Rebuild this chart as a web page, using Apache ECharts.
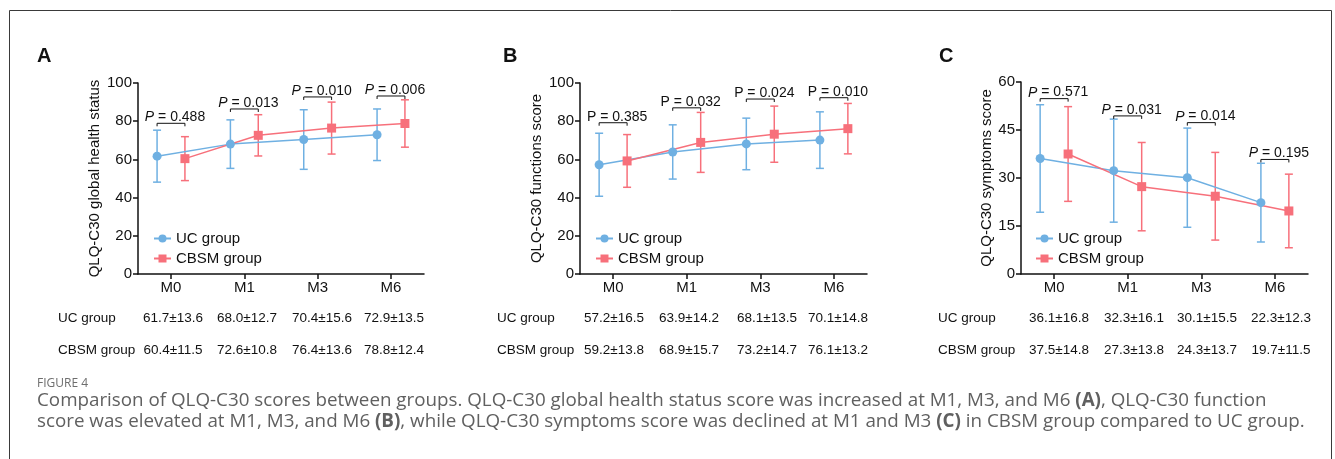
<!DOCTYPE html>
<html>
<head>
<meta charset="utf-8">
<script src="https://cdn.jsdelivr.net/npm/echarts@6/dist/echarts.min.js"></script>
<style>
html,body{margin:0;padding:0;background:#fff;}
#chart{width:1335px;height:459px;}
</style>
</head>
<body>
<div id="chart"></div>
<script>
// ---------- DATA ----------
const categories = ['M0', 'M1', 'M3', 'M6'];
const groupNames = ['UC group', 'CBSM group'];

// Panel A: global health status
const ucMeanA = [61.7, 68.0, 70.4, 72.9];
const ucSdA   = [13.6, 12.7, 15.6, 13.5];
const cbMeanA = [60.4, 72.6, 76.4, 78.8];
const cbSdA   = [11.5, 10.8, 13.6, 12.4];
const pA      = ['0.488', '0.013', '0.010', '0.006'];

// Panel B: functions score
const ucMeanB = [57.2, 63.9, 68.1, 70.1];
const ucSdB   = [16.5, 14.2, 13.5, 14.8];
const cbMeanB = [59.2, 68.9, 73.2, 76.1];
const cbSdB   = [13.8, 15.7, 14.7, 13.2];
const pB      = ['0.385', '0.032', '0.024', '0.010'];

// Panel C: symptoms score
const ucMeanC = [36.1, 32.3, 30.1, 22.3];
const ucSdC   = [16.8, 16.1, 15.5, 12.3];
const cbMeanC = [37.5, 27.3, 24.3, 19.7];
const cbSdC   = [14.8, 13.8, 13.7, 11.5];
const pC      = ['0.571', '0.031', '0.014', '0.195'];

// Y axis ticks
const yTicksAB = [0, 20, 40, 60, 80, 100];
const yTicksC  = [0, 15, 30, 45, 60];

// Bracket levels (value units)
const bracketA = [78.9, 86.4, 92.7, 93.2];
const bracketB = [79.2, 87.0, 91.6, 92.3];
const bracketC = [54.8, 49.4, 47.3, 35.8];

// ---------- STYLE / LAYOUT ----------
const BLUE = '#6fb0e2';
const RED = '#f7707b';
const FONT = "'Liberation Sans', Arial, Helvetica, sans-serif";
const OFF = 0.19;

const panels = [
  { letter: 'A', name: 'QLQ-C30 global health status', grid: {left: 138, top: 83, width: 286, height: 191},
    uc: [ucMeanA, ucSdA], cb: [cbMeanA, cbSdA], p: pA, br: bracketA, ticks: yTicksAB, italic: true,
    nameGap: 36, letterX: 37, legendLeft: 148, labelX: 58, cols: [173, 247, 322, 394] },
  { letter: 'B', name: 'QLQ-C30 functions score', grid: {left: 580, top: 83, width: 287, height: 191},
    uc: [ucMeanB, ucSdB], cb: [cbMeanB, cbSdB], p: pB, br: bracketB, ticks: yTicksAB, italic: false,
    nameGap: 36, letterX: 503, legendLeft: 590, labelX: 497, cols: [614, 689, 767, 838] },
  { letter: 'C', name: 'QLQ-C30 symptoms score', grid: {left: 1021, top: 82, width: 287, height: 192},
    uc: [ucMeanC, ucSdC], cb: [cbMeanC, cbSdC], p: pC, br: bracketC, ticks: yTicksC, italic: true,
    nameGap: 27, letterX: 939, legendLeft: 1030, labelX: 938, cols: [1059, 1134, 1207, 1281] }
];

function fmt(m, s) { return m.toFixed(1) + '\u00b1' + s.toFixed(1); }

const grids = [], xAxes = [], yAxes = [], series = [], legends = [], graphics = [];

panels.forEach((pn, gi) => {
  grids.push(pn.grid);
  xAxes.push({
    type: 'value', gridIndex: gi, min: -0.45, max: 3.45,
    splitLine: {show: false},
    axisLine: {show: true, onZero: false, lineStyle: {color: '#111', width: 1.5}},
    axisTick: {show: true, length: 5, lineStyle: {color: '#111', width: 1.5}, customValues: [0, 1, 2, 3]},
    axisLabel: {show: true, customValues: [0, 1, 2, 3], formatter: v => categories[Math.round(v)],
      fontSize: 15, color: '#111', fontFamily: FONT, margin: 6}
  });
  const tk = pn.ticks;
  yAxes.push({
    type: 'value', gridIndex: gi, min: tk[0], max: tk[tk.length - 1], interval: tk[1] - tk[0],
    name: pn.name, nameLocation: 'middle', nameGap: pn.nameGap, nameRotate: 90,
    nameTextStyle: {fontSize: 15, color: '#111', fontFamily: FONT},
    splitLine: {show: false},
    axisLine: {show: true, onZero: false, lineStyle: {color: '#111', width: 1.5}},
    axisTick: {show: true, length: 5, lineStyle: {color: '#111', width: 1.5}},
    axisLabel: {fontSize: 15, color: '#111', fontFamily: FONT, margin: 6}
  });

  const groups = [
    {name: groupNames[0], mean: pn.uc[0], sd: pn.uc[1], color: BLUE, sym: 'circle', size: 9, dx: -OFF},
    {name: groupNames[1], mean: pn.cb[0], sd: pn.cb[1], color: RED, sym: 'rect', size: 9, dx: OFF}
  ];
  groups.forEach(g => {
    series.push({
      type: 'custom', name: g.name + ' err', xAxisIndex: gi, yAxisIndex: gi, z: 1, clip: false,
      data: g.mean.map((m, i) => [i + g.dx, m - g.sd[i], m + g.sd[i]]),
      encode: {x: 0, y: [1, 2]},
      renderItem: (params, api) => {
        const x = api.value(0);
        const top = api.coord([x, api.value(2)]);
        const bot = api.coord([x, api.value(1)]);
        const w = 4;
        const st = {stroke: g.color, lineWidth: 1.5};
        return {type: 'group', children: [
          {type: 'line', shape: {x1: top[0], y1: top[1], x2: bot[0], y2: bot[1]}, style: st},
          {type: 'line', shape: {x1: top[0] - w, y1: top[1], x2: top[0] + w, y2: top[1]}, style: st},
          {type: 'line', shape: {x1: bot[0] - w, y1: bot[1], x2: bot[0] + w, y2: bot[1]}, style: st}
        ]};
      }
    });
    series.push({
      type: 'line', name: g.name, xAxisIndex: gi, yAxisIndex: gi, z: 3,
      data: g.mean.map((m, i) => [i + g.dx, m]),
      symbol: g.sym, symbolSize: g.size, showSymbol: true,
      lineStyle: {color: g.color, width: 1.5},
      itemStyle: {color: g.color},
      emphasis: {disabled: true}, animation: false
    });
  });

  series.push({
    type: 'custom', name: 'p' + gi, xAxisIndex: gi, yAxisIndex: gi, z: 4, clip: false,
    data: pn.br.map((b, i) => [i, b]),
    encode: {x: 0, y: 1},
    renderItem: (params, api) => {
      const i = api.value(0), lv = api.value(1);
      const a = api.coord([i - OFF, lv]);
      const b = api.coord([i + OFF, lv]);
      const ptxt = pn.italic ? '{i|P} = ' + pn.p[params.dataIndex] : 'P = ' + pn.p[params.dataIndex];
      return {type: 'group', children: [
        {type: 'polyline', shape: {points: [[a[0], a[1] + 3], [a[0], a[1]], [b[0], b[1]], [b[0], b[1] + 3]]}, style: {stroke: '#111', lineWidth: 1, fill: null}},
        {type: 'text', x: (a[0] + b[0]) / 2 + 4, y: a[1] + 1,
          style: {text: ptxt, fontSize: 14, fontFamily: FONT, fill: '#111', align: 'center', verticalAlign: 'bottom',
            rich: {i: {fontStyle: 'italic', fontSize: 14, fontFamily: FONT, fill: '#111'}}}}
      ]};
    }
  });

  legends.push({
    data: groupNames, orient: 'vertical', left: pn.legendLeft, top: 226,
    itemWidth: 17, itemHeight: 10, itemGap: 5, selectedMode: false,
    textStyle: {fontSize: 15, color: '#111', fontFamily: FONT}
  });

  graphics.push({type: 'text', left: pn.letterX, top: 46,
    style: {text: pn.letter, fontSize: 20, fontWeight: 'bold', fontFamily: FONT, fill: '#111'}});

  const rows = [[groupNames[0], pn.uc], [groupNames[1], pn.cb]];
  const rowY = [318, 350];
  rows.forEach((r, ri) => {
    graphics.push({type: 'text', x: pn.labelX, y: rowY[ri],
      style: {text: r[0], fontSize: 13.5, fontFamily: FONT, fill: '#111', verticalAlign: 'middle'}});
    r[1][0].forEach((m, ci) => {
      graphics.push({type: 'text', x: pn.cols[ci], y: rowY[ri],
        style: {text: fmt(m, r[1][1][ci]), fontSize: 13.5, fontFamily: FONT, fill: '#111', align: 'center', verticalAlign: 'middle'}});
    });
  });
});

graphics.push({type: 'rect', shape: {x: 9.5, y: 10.5, width: 1322, height: 520},
  style: {fill: null, stroke: '#3a3a3a', lineWidth: 1}});

const CAP = "'Open Sans', Lato, sans-serif";
graphics.push({type: 'text', x: 37, y: 384,
  style: {text: 'FIGURE 4', fontSize: 12, fontFamily: CAP, fill: '#6e6e6e', verticalAlign: 'middle'}});
const capRich = {b: {fontWeight: 'bold', fontSize: 18.8, fontFamily: CAP, fill: '#606060'}};
graphics.push({type: 'text', x: 37, y: 401,
  style: {text: 'Comparison of QLQ-C30 scores between groups. QLQ-C30 global health status score was increased at M1, M3, and M6 {b|(A)}, QLQ-C30 function',
    fontSize: 18.8, fontFamily: CAP, fill: '#606060', verticalAlign: 'middle', rich: capRich}});
graphics.push({type: 'text', x: 37, y: 422,
  style: {text: 'score was elevated at M1, M3, and M6 {b|(B)}, while QLQ-C30 symptoms score was declined at M1 and M3 {b|(C)} in CBSM group compared to UC group.',
    fontSize: 18.8, fontFamily: CAP, fill: '#606060', verticalAlign: 'middle', rich: capRich}});

const chart = echarts.init(document.getElementById('chart'), null, {renderer: 'canvas'});
chart.setOption({
  animation: false,
  backgroundColor: '#fff',
  grid: grids, xAxis: xAxes, yAxis: yAxes, series: series, legend: legends, graphic: graphics
});
</script>
</body>
</html>
